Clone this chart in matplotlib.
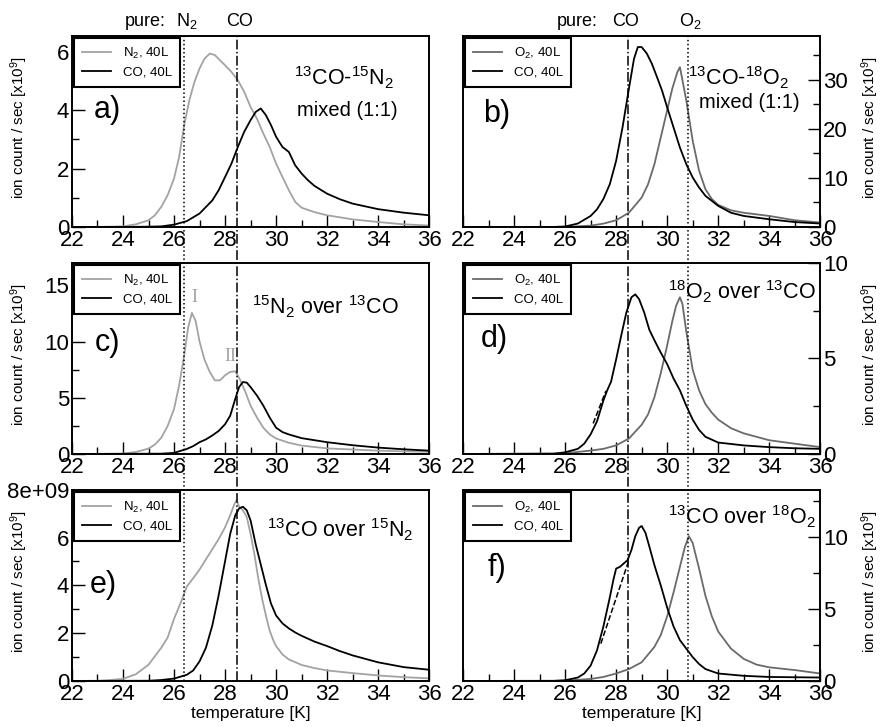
import matplotlib
matplotlib.use("Agg")
import matplotlib.pyplot as plt
import matplotlib.transforms as mtransforms
from matplotlib.lines import Line2D
from matplotlib.ticker import MultipleLocator

plt.rcParams['font.family'] = ['Liberation Sans', 'DejaVu Sans']
plt.rcParams['mathtext.fontset'] = 'custom'
plt.rcParams['mathtext.rm'] = 'Liberation Sans'
plt.rcParams['mathtext.it'] = 'Liberation Sans'

# ---- data (temperature in K, ion count in 1e9 / s) ----
# a) 13CO-15N2 mixed
a_t_n2 = [22, 23, 24, 24.5, 25, 25.25, 25.5, 25.75, 26, 26.2, 26.4, 26.6, 26.8, 27, 27.2, 27.4, 27.6, 27.8, 28,
          28.25, 28.5, 28.75, 29, 29.25, 29.5, 29.75, 30, 30.25, 30.5, 30.75, 31, 31.5, 32, 33, 34, 35, 36]
a_n2 = [0, 0, 0.02, 0.09, 0.23, 0.4, 0.69, 1.09, 1.66, 2.4, 3.5, 4.34, 4.97, 5.43, 5.77, 5.94, 5.89, 5.71, 5.54,
        5.31, 5.03, 4.63, 4.11, 3.71, 3.2, 2.74, 2.17, 1.71, 1.26, 0.86, 0.66, 0.51, 0.4, 0.26, 0.17, 0.09, 0.05]
a_t_co = [22, 24, 25, 25.5, 26, 26.5, 27, 27.5, 27.75, 28, 28.25, 28.5, 28.75, 29, 29.2, 29.4, 29.6, 29.8, 30,
          30.25, 30.5, 30.75, 31, 31.25, 31.5, 32, 32.5, 33, 34, 35, 36]
a_co = [0, 0, 0.01, 0.02, 0.08, 0.2, 0.46, 0.91, 1.26, 1.71, 2.17, 2.74, 3.26, 3.66, 3.94, 4.06, 3.83, 3.49, 3.09,
        2.74, 2.57, 2.11, 1.83, 1.6, 1.41, 1.14, 0.95, 0.8, 0.61, 0.49, 0.4]

# b) 13CO-18O2 mixed
b_t_o2 = [22, 26, 27, 27.5, 28, 28.5, 29, 29.25, 29.5, 29.75, 30, 30.2, 30.4, 30.5, 30.6, 30.75, 31, 31.25, 31.5,
          31.75, 32, 32.5, 33, 34, 35, 36]
b_o2 = [0, 0, 0.27, 0.68, 1.37, 2.9, 6.0, 8.7, 12.8, 18.3, 23.8, 28.2, 31.6, 32.6, 29.9, 25.8, 17.6, 11.5, 7.7,
        5.7, 4.5, 3.4, 2.9, 2.25, 1.37, 0.9]
b_t_co = [22, 25.5, 26, 26.5, 27, 27.25, 27.5, 27.75, 28, 28.25, 28.5, 28.7, 28.85, 29, 29.2, 29.4, 29.6, 29.8, 30,
          30.25, 30.5, 30.75, 31, 31.25, 31.5, 32, 32.5, 33, 34, 35, 36]
b_co = [0, 0, 0.1, 0.7, 2.25, 3.6, 5.7, 8.7, 13.5, 20.3, 28.2, 34.3, 36.7, 36.7, 35.4, 33.3, 30.6, 27.8, 24.4,
        20.3, 16.2, 12.8, 10.1, 8.05, 6.35, 4.3, 2.9, 2.25, 1.57, 1.0, 0.7]

# c) 15N2 over 13CO
c_t_n2 = [22, 24, 24.5, 25, 25.25, 25.5, 25.75, 26, 26.2, 26.4, 26.55, 26.7, 26.85, 27, 27.2, 27.4, 27.6, 27.8, 28,
          28.2, 28.4, 28.6, 28.8, 29, 29.25, 29.5, 29.75, 30, 30.5, 31, 32, 33, 34, 35, 36]
c_n2 = [0, 0.03, 0.18, 0.48, 0.84, 1.44, 2.5, 4.0, 6.1, 8.8, 11.2, 12.55, 11.8, 10.0, 8.35, 7.3, 6.55, 6.55, 7.0,
        7.3, 7.35, 6.55, 5.5, 4.3, 3.24, 2.34, 1.74, 1.38, 1.0, 0.75, 0.5, 0.4, 0.3, 0.24, 0.2]
c_t_co = [22, 25.5, 26, 26.5, 26.75, 27, 27.25, 27.5, 27.75, 28, 28.2, 28.4, 28.55, 28.7, 28.85, 29, 29.25, 29.5,
          29.75, 30, 30.25, 30.5, 31, 31.5, 32, 33, 34, 35, 36]
c_co = [0, 0.03, 0.1, 0.45, 0.7, 1.05, 1.3, 1.65, 2.05, 2.65, 3.4, 4.9, 5.95, 6.4, 6.35, 5.95, 5.2, 4.3,
        3.24, 2.34, 1.95, 1.74, 1.41, 1.23, 1.05, 0.78, 0.57, 0.42, 0.3]

# d) 18O2 over 13CO
d_t_o2 = [22, 26, 27, 27.5, 28, 28.5, 29, 29.25, 29.5, 29.75, 30, 30.2, 30.35, 30.5, 30.6, 30.75, 31, 31.25, 31.5,
          31.75, 32, 32.5, 33, 34, 35, 36]
d_o2 = [0, 0.04, 0.18, 0.27, 0.45, 0.81, 1.53, 2.07, 2.97, 4.23, 5.68, 6.94, 7.75, 8.2, 7.84, 6.4, 4.41, 3.33, 2.61,
        2.16, 1.8, 1.35, 1.08, 0.72, 0.54, 0.36]
d_t_co = [22, 25.5, 26, 26.5, 26.75, 27, 27.25, 27.5, 27.65, 27.8, 28, 28.2, 28.4, 28.6, 28.75, 28.9, 29.1, 29.3,
          29.5, 29.75, 30, 30.25, 30.5, 30.75, 31, 31.25, 31.5, 32, 33, 34, 35, 36]
d_co = [0, 0, 0.09, 0.27, 0.54, 1.03, 1.71, 2.8, 3.33, 3.78, 4.95, 6.2, 7.4, 8.2, 8.35, 8.1, 7.4, 6.5,
        5.95, 5.3, 4.7, 3.95, 3.33, 2.52, 1.8, 1.26, 0.9, 0.6, 0.45, 0.36, 0.3, 0.27]
d_t_fit = [27.1, 27.6]
d_fit = [1.6, 3.3]

# e) 13CO over 15N2
e_t_n2 = [22, 23, 23.5, 24, 24.5, 25, 25.5, 25.75, 26, 26.25, 26.5, 26.75, 27, 27.25, 27.5, 27.75, 28, 28.2, 28.35,
          28.45, 28.55, 28.7, 28.85, 29, 29.15, 29.3, 29.45, 29.6, 29.75, 29.9, 30, 30.25, 30.5, 31, 31.5, 32, 33,
          34, 35, 36]
e_n2 = [0, 0.01, 0.04, 0.09, 0.28, 0.68, 1.39, 1.82, 2.6, 3.24, 3.95, 4.3, 4.66, 5.09, 5.51, 5.94, 6.43, 6.93, 7.36,
        7.57, 7.3, 7.14, 6.86, 6.15, 5.3, 4.3, 3.45, 2.74, 2.1, 1.68, 1.46, 1.11, 0.9, 0.67, 0.54, 0.44, 0.33,
        0.23, 0.16, 0.11]
e_t_co = [22, 25, 25.5, 26, 26.5, 26.75, 27, 27.25, 27.5, 27.75, 28, 28.2, 28.4, 28.55, 28.7, 28.85, 29, 29.2, 29.4,
          29.6, 29.8, 30, 30.25, 30.5, 30.75, 31, 31.5, 32, 32.5, 33, 34, 35, 36]
e_co = [0, 0.01, 0.04, 0.1, 0.26, 0.44, 0.82, 1.39, 2.32, 3.59, 5.01, 6.15, 6.93, 7.22, 7.29, 7.14, 6.72, 5.72, 4.87,
        4.02, 3.24, 2.74, 2.41, 2.2, 2.03, 1.89, 1.65, 1.46, 1.25, 1.07, 0.78, 0.58, 0.47]

# f) 13CO over 18O2
f_t_o2 = [22, 26, 27, 27.5, 28, 28.5, 29, 29.5, 29.75, 30, 30.25, 30.5, 30.7, 30.85, 31, 31.25, 31.5, 31.75, 32,
          32.5, 33, 33.5, 34, 35, 36]
f_o2 = [0, 0.02, 0.14, 0.28, 0.52, 0.83, 1.3, 2.37, 3.2, 4.5, 6.16, 7.94, 9.36, 10.07, 9.6, 7.82, 5.92, 4.5, 3.44,
        2.25, 1.54, 1.14, 0.95, 0.76, 0.52]
f_t_co = [22, 25.5, 26, 26.5, 26.75, 27, 27.25, 27.5, 27.75, 27.9, 28, 28.15, 28.3, 28.45, 28.6, 28.75, 28.9, 29,
          29.15, 29.3, 29.5, 29.75, 30, 30.25, 30.5, 30.75, 31, 31.25, 31.5, 32, 33, 34, 36]
f_co = [0, 0, 0.05, 0.24, 0.52, 1.07, 2.13, 3.79, 5.8, 7.1, 7.82, 7.94, 8.18, 8.41, 9.12, 10.07, 10.66, 10.78,
        10.3, 9.36, 8.06, 6.64, 5.1, 3.79, 2.84, 2.25, 1.66, 1.18, 0.83, 0.52, 0.36, 0.28, 0.24]
f_t_fit = [27.4, 28.5]
f_fit = [2.6, 8.4]

pure_n2 = 26.4
pure_co = 28.47
pure_o2 = 30.83

GRAY_N2 = '#a3a3a3'
GRAY_O2 = '#6a6a6a'

fig = plt.figure(figsize=(8.82, 7.27), dpi=100)

lefts = [0.0816, 0.525]
width = 0.405
bottoms = [0.6878, 0.3755, 0.0633]
height = 0.263

panels = [
    # letter, col, row, t1, y1, label1, color1, t2, y2, ymax, major, minor
    ('a)', 0, 0, a_t_n2, a_n2, 'N$_2$, 40L', GRAY_N2, a_t_co, a_co, 6.55, 2, 1),
    ('b)', 1, 0, b_t_o2, b_o2, 'O$_2$, 40L', GRAY_O2, b_t_co, b_co, 39, 10, 5),
    ('c)', 0, 1, c_t_n2, c_n2, 'N$_2$, 40L', GRAY_N2, c_t_co, c_co, 17, 5, 2.5),
    ('d)', 1, 1, d_t_o2, d_o2, 'O$_2$, 40L', GRAY_O2, d_t_co, d_co, 10, 5, 2.5),
    ('e)', 0, 2, e_t_n2, e_n2, 'N$_2$, 40L', GRAY_N2, e_t_co, e_co, 8, 2, 1),
    ('f)', 1, 2, f_t_o2, f_o2, 'O$_2$, 40L', GRAY_O2, f_t_co, f_co, 13.3, 5, 2.5),
]
letter_pos = {'a)': (0.06, 0.61), 'b)': (0.055, 0.59), 'c)': (0.065, 0.58),
              'd)': (0.05, 0.60), 'e)': (0.05, 0.50), 'f)': (0.07, 0.59)}

axes = {}
for letter, col, row, t1, y1, lab1, c1, t2, y2, ymax, major, minor in panels:
    ax = fig.add_axes([lefts[col], bottoms[row], width, height])
    axes[letter] = ax
    ax.plot(t1, y1, color=c1, lw=1.3, label=lab1)
    ax.plot(t2, y2, color='black', lw=1.3, label='CO, 40L')
    ax.set_xlim(22, 36)
    ax.set_ylim(0, ymax)
    ax.xaxis.set_major_locator(MultipleLocator(2))
    ax.xaxis.set_minor_locator(MultipleLocator(1))
    ax.yaxis.set_major_locator(MultipleLocator(major))
    ax.yaxis.set_minor_locator(MultipleLocator(minor))
    ax.tick_params(axis='both', which='both', direction='in', labelsize=16, top=False, pad=2)
    ax.tick_params(which='major', length=9, width=1)
    ax.tick_params(which='minor', length=5, width=1)
    if col == 1:
        ax.yaxis.tick_right()
        ax.yaxis.set_label_position('right')
        ax.tick_params(axis='y', which='both', left=False, right=True, direction='in')
    for s in ax.spines.values():
        s.set_linewidth(1.4)
    ax.set_ylabel('ion count / sec [x10$^9$]', fontsize=11)
    if col == 0:
        ax.yaxis.set_label_coords(-0.118, 0.52)
    else:
        ax.yaxis.set_label_coords(1.11, 0.52)
    if row == 2:
        ax.set_xlabel('temperature [K]', fontsize=12.5, labelpad=1)
    leg = ax.legend(loc='upper left', fontsize=9.5, handlelength=2.2, borderaxespad=0.15,
                    fancybox=False, framealpha=1, edgecolor='black', borderpad=0.6,
                    labelspacing=0.45, handletextpad=0.9)
    leg.get_frame().set_linewidth(1.5)
    lx, ly = letter_pos[letter]
    ax.text(lx, ly, letter, transform=ax.transAxes, fontsize=22, va='center', ha='left')

# e) top tick label written in exponent form
axes['e)'].set_yticks([0, 2, 4, 6, 8])
axes['e)'].set_yticklabels(['0', '2', '4', '6', '8e+09'])

# fitted leading edges
axes['d)'].plot(d_t_fit, d_fit, color='black', lw=1.1, ls='--')
axes['f)'].plot(f_t_fit, f_fit, color='black', lw=1.1, ls='--')

# panel annotations
axes['a)'].text(0.76, 0.78, '$^{13}$CO-$^{15}$N$_2$', transform=axes['a)'].transAxes, fontsize=15.5, ha='center', va='center')
axes['a)'].text(0.77, 0.61, 'mixed (1:1)', transform=axes['a)'].transAxes, fontsize=14.5, ha='center', va='center')
axes['b)'].text(0.77, 0.78, '$^{13}$CO-$^{18}$O$_2$', transform=axes['b)'].transAxes, fontsize=15.5, ha='center', va='center')
axes['b)'].text(0.80, 0.65, 'mixed (1:1)', transform=axes['b)'].transAxes, fontsize=14.5, ha='center', va='center')
axes['c)'].text(0.71, 0.77, '$^{15}$N$_2$ over $^{13}$CO', transform=axes['c)'].transAxes, fontsize=15.5, ha='center', va='center')
axes['d)'].text(0.78, 0.85, '$^{18}$O$_2$ over $^{13}$CO', transform=axes['d)'].transAxes, fontsize=15.5, ha='center', va='center')
axes['e)'].text(0.75, 0.79, '$^{13}$CO over $^{15}$N$_2$', transform=axes['e)'].transAxes, fontsize=15.5, ha='center', va='center')
axes['f)'].text(0.78, 0.86, '$^{13}$CO over $^{18}$O$_2$', transform=axes['f)'].transAxes, fontsize=15.5, ha='center', va='center')
axes['c)'].text(26.8, 13.9, 'I', color=GRAY_N2, fontsize=13, family='Liberation Serif', ha='center', va='center', zorder=6)
axes['c)'].text(28.2, 8.7, 'II', color=GRAY_N2, fontsize=13, family='Liberation Serif', ha='center', va='center')

# pure-ice peak positions, drawn through all rows
y_top = bottoms[0] + height
y_bot = bottoms[2]
vlines = [(axes['a)'], [(pure_n2, ':'), (pure_co, '-.')]),
          (axes['b)'], [(pure_co, '-.'), (pure_o2, ':')])]
for ax, xs in vlines:
    tr = mtransforms.blended_transform_factory(ax.transData, fig.transFigure)
    for xv, ls in xs:
        fig.add_artist(Line2D([xv, xv], [y_bot, y_top], transform=tr, color='black', lw=1.1, ls=ls))

ytxt = 1 - 21 / 727
fig.text(125 / 882, ytxt, 'pure:', fontsize=13, va='center')
fig.text(187 / 882, ytxt, 'N$_2$', fontsize=13, va='center', ha='center')
fig.text(240 / 882, ytxt, 'CO', fontsize=13, va='center', ha='center')
fig.text(557 / 882, ytxt, 'pure:', fontsize=13, va='center')
fig.text(626 / 882, ytxt, 'CO', fontsize=13, va='center', ha='center')
fig.text(690 / 882, ytxt, 'O$_2$', fontsize=13, va='center', ha='center')

fig.savefig('out.png', dpi=100)
